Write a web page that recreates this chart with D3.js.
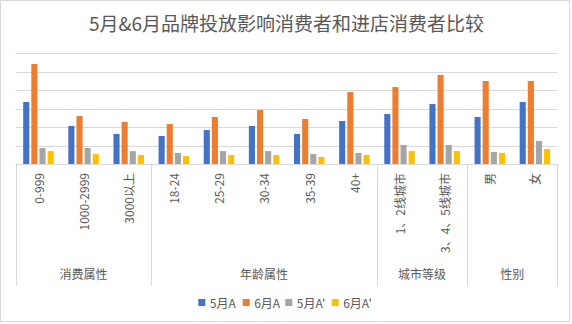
<!DOCTYPE html>
<html><head><meta charset="utf-8">
<script src="https://cdn.jsdelivr.net/npm/d3@7/dist/d3.min.js"></script>
<style>
html,body{margin:0;padding:0;background:#fff;}
svg{display:block;font-family:"Noto Sans CJK SC","Noto Sans",sans-serif;}
</style></head>
<body>
<svg id="chart" width="572" height="324"></svg>
<script>
// ---- data ----
const categories = ["0-999","1000-2999","3000以上","18-24","25-29","30-34","35-39","40+","1、2线城市","3、4、5线城市","男","女"];
const groups = [
  {name:"消费属性", from:0, to:3},
  {name:"年龄属性", from:3, to:8},
  {name:"城市等级", from:8, to:10},
  {name:"性别", from:10, to:12}
];
const seriesNames = ["5月A","6月A","5月A'","6月A'"];
const s5A  = [3.36,2.06,1.63,1.52,1.84,2.06,1.63,2.33,2.71,3.25,2.55,3.36];
const s6A  = [5.42,2.60,2.28,2.17,2.55,2.93,2.44,3.90,4.17,4.83,4.50,4.50];
const s5Ap = [0.87,0.87,0.70,0.60,0.70,0.70,0.54,0.60,1.03,1.03,0.65,1.25];
const s6Ap = [0.70,0.54,0.49,0.43,0.49,0.49,0.38,0.49,0.70,0.70,0.60,0.81];
const yTicks = [0,1,2,3,4,5,6];
const colors = ["#4472C4","#ED7D31","#A5A5A5","#FFC000"];
const title = "5月&6月品牌投放影响消费者和进店消费者比较";

const seriesData = [s5A, s6A, s5Ap, s6Ap];
const svg = d3.select("#chart");
const textColor = "#595959", gridColor = "#d9d9d9";

// border
svg.append("rect").attr("x",0.5).attr("y",0.5).attr("width",569).attr("height",321)
  .attr("fill","#fff").attr("stroke",gridColor);

// title
svg.append("text").attr("x",286.5).attr("y",22).attr("text-anchor","middle")
  .attr("dominant-baseline","central").attr("font-size",19).attr("fill",textColor).text(title);

const x = d3.scaleBand().domain(categories).range([15.7,557.3]).padding(0);
const xs = d3.scaleBand().domain(seriesNames).range([7.5,38]).paddingInner(0.25);
const y = d3.scaleLinear().domain([0,6]).range([164,53.3]);

// gridlines
svg.append("g").selectAll("line").data(yTicks).join("line")
  .attr("x1",15.7).attr("x2",557.3)
  .attr("y1",d=>Math.round(y(d))+0.5).attr("y2",d=>Math.round(y(d))+0.5)
  .attr("stroke",gridColor).attr("stroke-width",1);

// bars
seriesData.forEach((vals,si)=>{
  svg.append("g").selectAll("rect").data(vals).join("rect")
    .attr("x",(d,i)=>x(categories[i])+xs(seriesNames[si]))
    .attr("width",xs.bandwidth())
    .attr("y",d=>y(d)).attr("height",d=>y(0)-y(d))
    .attr("fill",colors[si]);
});

// axis baseline
svg.append("line").attr("x1",15.7).attr("x2",557.3).attr("y1",164.5).attr("y2",164.5)
  .attr("stroke",gridColor);

// group separators
const sepIdx = [0];
groups.forEach(g=>sepIdx.push(g.to));
svg.append("g").selectAll("line").data(sepIdx).join("line")
  .attr("x1",d=> d<categories.length ? Math.round(x(categories[d]))+0.5 : 557.5)
  .attr("x2",d=> d<categories.length ? Math.round(x(categories[d]))+0.5 : 557.5)
  .attr("y1",164).attr("y2",286).attr("stroke",gridColor);

// category labels (rotated)
svg.append("g").selectAll("text").data(categories).join("text")
  .attr("transform",d=>`translate(${x(d)+x.bandwidth()/2},173) rotate(-90)`)
  .attr("text-anchor","end").attr("dominant-baseline","central")
  .attr("font-size",12).attr("fill",textColor).text(d=>d);

// group labels
svg.append("g").selectAll("text").data(groups).join("text")
  .attr("x",g=>{const a=x(categories[g.from]); const b=g.to<categories.length?x(categories[g.to]):557.3; return (a+b)/2;})
  .attr("y",273).attr("text-anchor","middle").attr("dominant-baseline","central")
  .attr("font-size",12).attr("fill",textColor).text(g=>g.name);

// legend
const legendX = [198.3,242.7,285.3,331.7];
const lg = svg.append("g");
seriesNames.forEach((n,i)=>{
  lg.append("rect").attr("x",legendX[i]).attr("y",299).attr("width",7).attr("height",7).attr("fill",colors[i]);
  lg.append("text").attr("x",legendX[i]+11.5).attr("y",302.5).attr("dominant-baseline","central")
    .attr("font-size",12).attr("fill",textColor).text(n);
});
</script>
</body></html>
